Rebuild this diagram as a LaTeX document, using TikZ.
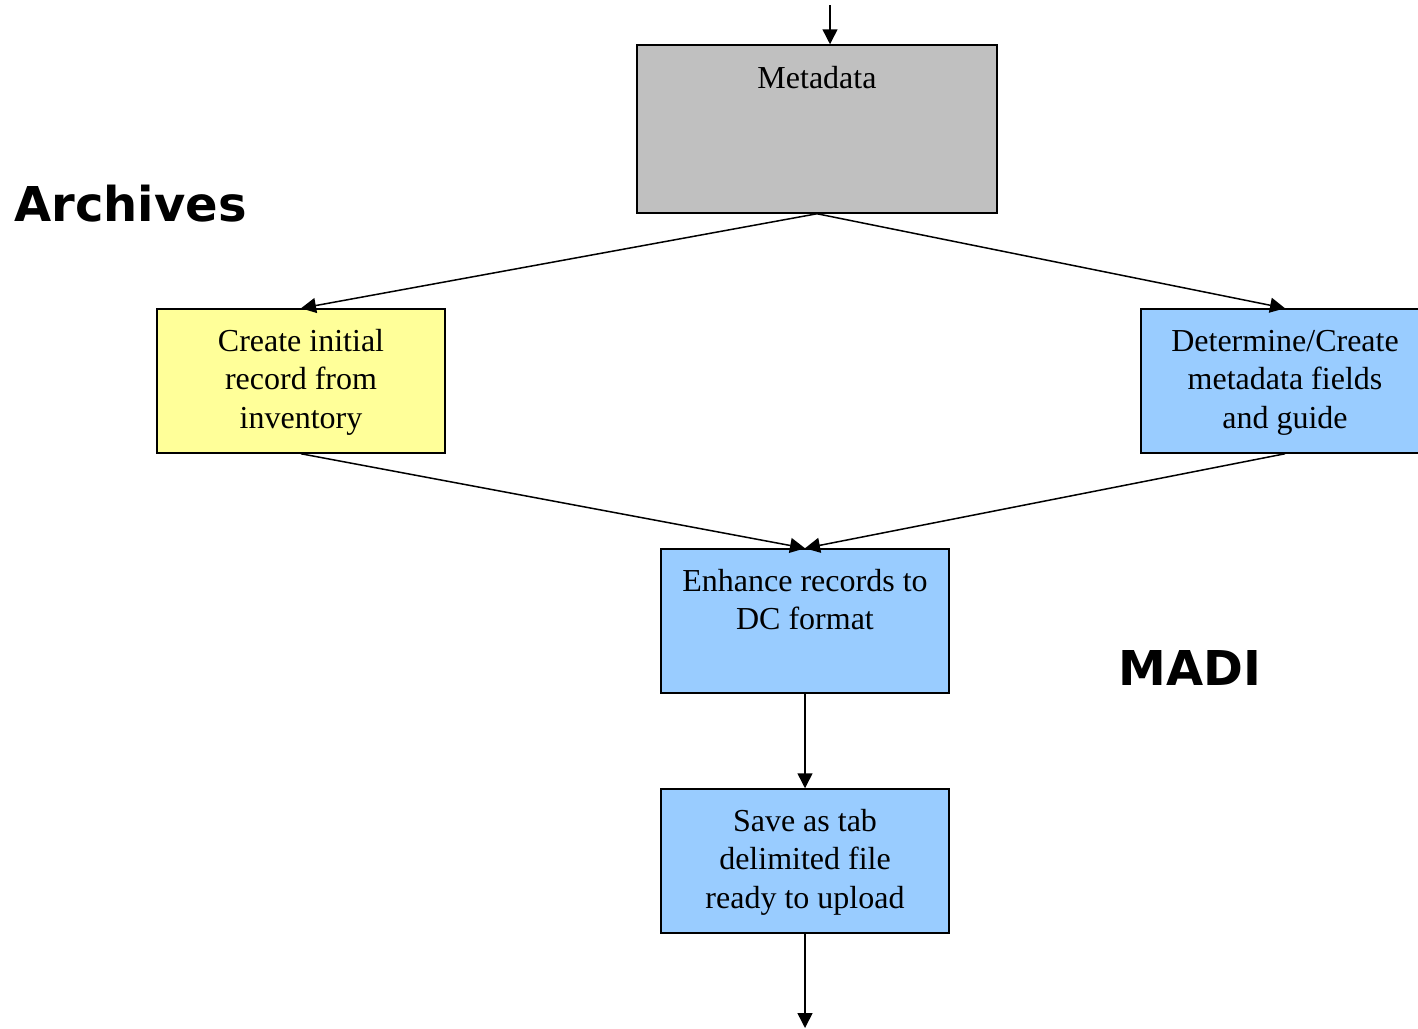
\documentclass[tikz,border=0pt]{standalone}
\usepackage{fontspec}
\setmainfont{Liberation Serif}
\newfontfamily\dvsans{DejaVu Sans}
\usetikzlibrary{arrows.meta}
\definecolor{boxgray}{HTML}{C0C0C0}
\definecolor{boxyellow}{HTML}{FFFF99}
\definecolor{boxblue}{HTML}{99CCFF}
\tikzset{
  box/.style={draw=black, line width=0.75pt, rectangle, minimum width=144pt, minimum height=72pt, inner sep=0pt},
  boxtext/.style={anchor=north, inner sep=0pt, align=center, font=\fontsize{16}{19.25}\selectfont},
  conn/.style={draw=black, line width=0.75pt, -{Triangle[length=7.5pt,width=7.5pt]}},
  bigtitle/.style={anchor=base west, inner sep=0pt, font=\dvsans\bfseries\fontsize{24}{28}\selectfont}
}
\begin{document}
\begin{tikzpicture}[x=0.5pt,y=-0.5pt]
\useasboundingbox (0,0) rectangle (1418,1028);
\clip (0,0) rectangle (1418,1028);
% boxes
\node[box, fill=boxgray, minimum width=180pt, minimum height=84pt] (meta) at (817,129) {};
\node[box, fill=boxyellow] (create) at (301,381) {};
\node[box, fill=boxblue] (det) at (1285,381) {};
\node[box, fill=boxblue] (enh) at (805,621) {};
\node[box, fill=boxblue] (save) at (805,861) {};
% texts
\node[boxtext] (metat) at ([yshift=-10.6pt]meta.north) {Metadata};
\node[boxtext] (createt) at ([yshift=-10.2pt]create.north) {Create initial\\record from\\inventory};
\node[boxtext] (dett) at ([yshift=-10.7pt]det.north) {Determine/Create\\metadata fields\\and guide};
\node[boxtext] (enht) at ([yshift=-10.2pt]enh.north) {Enhance records to\\DC format};
\node[boxtext] (savet) at ([yshift=-10.2pt]save.north) {Save as tab\\delimited file\\ready to upload};
% titles
\node[bigtitle] (arch) at (14,221) {Archives};
\node[bigtitle] (madi) at (1118,685) {MADI};
% connectors
\coordinate (topin) at (830,5);
\coordinate (botout) at (805,1028);
\draw[conn] (topin) -- (topin |- meta.north);
\draw[conn] (meta.south) -- (create.north);
\draw[conn] (meta.south) -- (det.north);
\draw[conn] (create.south) -- (enh.north);
\draw[conn] (det.south) -- (enh.north);
\draw[conn] (enh.south) -- (save.north);
\draw[conn] (save.south) -- (botout);
\end{tikzpicture}
\end{document}
